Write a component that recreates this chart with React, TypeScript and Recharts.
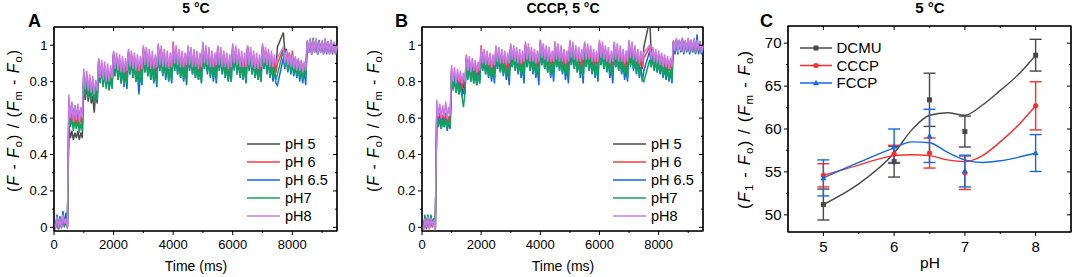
import React from "react";
import {
  LineChart, Line, XAxis, YAxis, ComposedChart, Scatter, ErrorBar, Legend, ReferenceLine,
} from "recharts";

const FONT = "'Liberation Sans', Arial, sans-serif";
const STEP_MS = 50;

const timeTicks = [0, 1000, 2000, 3000, 4000, 5000, 6000, 7000, 8000, 9000];
const yTicksAB = [0, 0.1, 0.2, 0.3, 0.4, 0.5, 0.6, 0.7, 0.8, 0.9, 1.0];
const phTicks = [5, 5.5, 6, 6.5, 7, 7.5, 8];
const yTicksC = [50, 52.5, 55, 57.5, 60, 62.5, 65, 67.5, 70];

const seriesNames = ["pH 5", "pH 6", "pH 6.5", "pH7", "pH8"];
const seriesColors = ["#4d4d4d", "#ff3b3b", "#1467e6", "#10a35c", "#c97ae6"];

// ---- panel A : 5 °C, one value every 50 ms ----
const aPH5 = [
  0.02, 0.00, 0.04, -0.01, 0.05, 0.00, 0.04, 0.01, 0.03, 0.00,
  0.56, 0.49, 0.53, 0.48, 0.52, 0.49, 0.53, 0.48, 0.52, 0.49,
  0.80, 0.70, 0.78, 0.69, 0.76, 0.68, 0.72, 0.63, 0.74, 0.68,
  0.90, 0.80, 0.88, 0.79, 0.87, 0.78, 0.86, 0.78, 0.85, 0.80,
  0.95, 0.85, 0.93, 0.84, 0.92, 0.83, 0.90, 0.82, 0.89, 0.83,
  0.96, 0.86, 0.94, 0.85, 0.93, 0.84, 0.91, 0.83, 0.90, 0.84,
  0.98, 0.87, 0.96, 0.86, 0.94, 0.85, 0.92, 0.84, 0.91, 0.85,
  0.99, 0.88, 0.97, 0.87, 0.95, 0.86, 0.93, 0.85, 0.92, 0.85,
  0.99, 0.88, 0.97, 0.87, 0.95, 0.86, 0.93, 0.85, 0.92, 0.86,
  0.99, 0.88, 0.97, 0.86, 0.95, 0.86, 0.93, 0.85, 0.91, 0.85,
  1.00, 0.88, 0.97, 0.87, 0.95, 0.86, 0.93, 0.85, 0.92, 0.86,
  0.99, 0.88, 0.96, 0.86, 0.95, 0.85, 0.93, 0.85, 0.91, 0.85,
  0.99, 0.88, 0.97, 0.87, 0.95, 0.86, 0.93, 0.85, 0.92, 0.86,
  0.99, 0.88, 0.96, 0.86, 0.94, 0.85, 0.92, 0.85, 0.91, 0.86,
  0.99, 0.88, 0.97, 0.87, 0.95, 0.86, 0.93, 0.85, 0.92, 0.86,
  0.99, null, null, null, 1.07, 0.96, 0.98, 0.90, 0.96, 0.88,
  0.95, 0.86, 0.93, 0.85, 0.92, 0.85, 0.91, 0.84, 0.90, 0.85,
  1.02, 0.97, 1.03, 0.96, 1.02, 0.97, 1.03, 0.96, 1.02, 0.97,
  1.02, 0.96, 1.03, 0.97, 1.02, 0.96, 1.02, 0.97, 1.01, 0.96, 0.99,
];
const aPH6 = [
  0.02, 0.00, 0.05, -0.01, 0.04, 0.00, 0.06, 0.01, 0.05, 0.00,
  0.66, 0.56, 0.63, 0.55, 0.62, 0.56, 0.63, 0.55, 0.61, 0.56,
  0.85, 0.73, 0.83, 0.72, 0.81, 0.71, 0.79, 0.70, 0.78, 0.72,
  0.92, 0.81, 0.90, 0.79, 0.89, 0.78, 0.87, 0.78, 0.86, 0.79,
  0.96, 0.86, 0.94, 0.84, 0.93, 0.83, 0.91, 0.82, 0.89, 0.83,
  0.97, 0.87, 0.95, 0.85, 0.94, 0.84, 0.92, 0.83, 0.90, 0.84,
  0.99, 0.88, 0.97, 0.86, 0.95, 0.85, 0.93, 0.84, 0.91, 0.84,
  1.00, 0.88, 0.98, 0.87, 0.96, 0.86, 0.94, 0.85, 0.92, 0.85,
  1.02, 0.89, 0.98, 0.87, 0.96, 0.86, 0.94, 0.85, 0.92, 0.85,
  0.99, 0.88, 0.97, 0.87, 0.95, 0.86, 0.94, 0.84, 0.92, 0.85,
  1.01, 0.89, 0.98, 0.87, 0.96, 0.86, 0.94, 0.85, 0.92, 0.86,
  0.99, 0.88, 0.97, 0.86, 0.95, 0.86, 0.93, 0.84, 0.91, 0.85,
  1.00, 0.89, 0.98, 0.87, 0.96, 0.86, 0.94, 0.85, 0.92, 0.85,
  0.99, 0.88, 0.97, 0.86, 0.95, 0.85, 0.93, 0.84, 0.91, 0.85,
  1.00, 0.89, 0.97, 0.87, 0.96, 0.86, 0.94, 0.85, 0.92, 0.85,
  0.90, null, null, null, 0.98, 0.89, 0.96, 0.88, 0.95, 0.87,
  0.97, 0.86, 0.93, 0.85, 0.92, 0.84, 0.91, 0.83, 0.90, 0.84,
  1.02, 0.96, 1.03, 0.95, 1.02, 0.96, 1.03, 0.95, 1.02, 0.96,
  1.02, 0.96, 1.03, 0.95, 1.02, 0.96, 1.02, 0.95, 1.01, 0.96, 0.99,
];
const aPH65 = [
  0.04, 0.00, 0.07, 0.01, 0.06, 0.00, 0.09, 0.02, 0.08, 0.01,
  0.70, 0.62, 0.68, 0.61, 0.67, 0.60, 0.66, 0.61, 0.65, 0.60,
  0.85, 0.73, 0.83, 0.72, 0.81, 0.71, 0.79, 0.70, 0.77, 0.71,
  0.91, 0.80, 0.89, 0.78, 0.87, 0.77, 0.85, 0.76, 0.83, 0.77,
  0.95, 0.83, 0.92, 0.81, 0.89, 0.79, 0.87, 0.77, 0.85, 0.76,
  0.96, 0.84, 0.92, 0.82, 0.90, 0.80, 0.86, 0.73, 0.85, 0.78,
  0.97, 0.85, 0.93, 0.83, 0.91, 0.81, 0.89, 0.79, 0.87, 0.77,
  0.98, 0.86, 0.94, 0.83, 0.92, 0.81, 0.90, 0.80, 0.88, 0.79,
  0.98, 0.86, 0.94, 0.84, 0.92, 0.82, 0.90, 0.80, 0.88, 0.78,
  0.98, 0.86, 0.94, 0.84, 0.91, 0.82, 0.89, 0.81, 0.87, 0.79,
  0.99, 0.87, 0.95, 0.84, 0.92, 0.82, 0.90, 0.80, 0.88, 0.79,
  0.98, 0.86, 0.94, 0.84, 0.92, 0.82, 0.89, 0.80, 0.87, 0.80,
  0.98, 0.87, 0.95, 0.84, 0.92, 0.82, 0.90, 0.81, 0.88, 0.79,
  0.98, 0.86, 0.94, 0.84, 0.91, 0.82, 0.89, 0.81, 0.87, 0.80,
  0.98, 0.87, 0.94, 0.84, 0.92, 0.82, 0.89, 0.80, 0.86, 0.79,
  0.78, null, null, null, 0.93, 0.87, 0.94, 0.85, 0.92, 0.84,
  0.91, 0.83, 0.89, 0.82, 0.88, 0.80, 0.87, 0.79, 0.86, 0.78,
  1.01, 0.96, 1.02, 0.95, 1.03, 0.96, 1.02, 0.95, 1.01, 0.96,
  1.02, 0.95, 1.03, 0.96, 1.01, 0.95, 1.02, 0.96, 1.01, 0.95, 0.98,
];
const aPH7 = [
  0.03, 0.00, 0.05, -0.01, 0.06, 0.01, 0.05, 0.00, 0.04, 0.00,
  0.64, 0.55, 0.60, 0.53, 0.58, 0.54, 0.59, 0.52, 0.57, 0.53,
  0.84, 0.72, 0.82, 0.71, 0.80, 0.70, 0.78, 0.69, 0.76, 0.70,
  0.90, 0.79, 0.88, 0.77, 0.86, 0.76, 0.84, 0.75, 0.83, 0.76,
  0.94, 0.83, 0.91, 0.81, 0.89, 0.79, 0.87, 0.78, 0.85, 0.79,
  0.95, 0.84, 0.92, 0.82, 0.90, 0.80, 0.88, 0.79, 0.86, 0.78,
  0.97, 0.85, 0.93, 0.83, 0.91, 0.81, 0.89, 0.80, 0.87, 0.79,
  0.97, 0.86, 0.94, 0.84, 0.92, 0.82, 0.90, 0.81, 0.88, 0.80,
  0.98, 0.86, 0.94, 0.84, 0.92, 0.82, 0.90, 0.81, 0.88, 0.80,
  0.97, 0.86, 0.94, 0.84, 0.91, 0.82, 0.90, 0.81, 0.87, 0.80,
  0.98, 0.87, 0.95, 0.85, 0.92, 0.83, 0.90, 0.82, 0.88, 0.81,
  0.97, 0.86, 0.94, 0.84, 0.92, 0.82, 0.90, 0.81, 0.88, 0.80,
  0.98, 0.86, 0.95, 0.84, 0.92, 0.83, 0.90, 0.81, 0.88, 0.81,
  0.97, 0.86, 0.94, 0.84, 0.91, 0.82, 0.89, 0.81, 0.87, 0.80,
  0.98, 0.87, 0.95, 0.85, 0.92, 0.83, 0.90, 0.82, 0.88, 0.81,
  0.84, null, null, null, 0.97, 0.88, 0.95, 0.86, 0.93, 0.85,
  0.92, 0.84, 0.90, 0.83, 0.89, 0.82, 0.88, 0.81, 0.87, 0.82,
  1.02, 0.97, 1.03, 0.96, 1.04, 0.97, 1.02, 0.96, 1.03, 0.97,
  1.02, 0.96, 1.03, 0.97, 1.02, 0.96, 1.03, 0.97, 1.01, 0.96, 0.99,
];
const aPH8 = [
  0.02, -0.01, 0.06, 0.00, 0.05, -0.01, 0.07, 0.02, 0.05, -0.01,
  0.73, 0.60, 0.69, 0.58, 0.67, 0.59, 0.68, 0.58, 0.66, 0.60,
  0.87, 0.76, 0.86, 0.75, 0.84, 0.74, 0.83, 0.73, 0.81, 0.75,
  0.93, 0.82, 0.92, 0.81, 0.91, 0.80, 0.90, 0.80, 0.89, 0.82,
  0.97, 0.87, 0.96, 0.86, 0.95, 0.85, 0.94, 0.85, 0.93, 0.86,
  0.98, 0.88, 0.97, 0.87, 0.96, 0.86, 0.95, 0.86, 0.94, 0.87,
  1.00, 0.89, 0.99, 0.88, 0.98, 0.87, 0.97, 0.87, 0.95, 0.88,
  1.01, 0.89, 1.00, 0.88, 0.98, 0.88, 0.97, 0.87, 0.96, 0.88,
  1.01, 0.90, 1.00, 0.89, 0.98, 0.88, 0.97, 0.88, 0.96, 0.89,
  1.00, 0.89, 0.99, 0.88, 0.98, 0.88, 0.97, 0.87, 0.96, 0.88,
  1.02, 0.90, 1.00, 0.89, 0.99, 0.88, 0.97, 0.88, 0.96, 0.89,
  1.00, 0.89, 0.99, 0.88, 0.97, 0.88, 0.96, 0.87, 0.95, 0.88,
  1.01, 0.90, 1.00, 0.89, 0.98, 0.88, 0.97, 0.88, 0.96, 0.88,
  1.00, 0.89, 0.99, 0.88, 0.97, 0.87, 0.96, 0.87, 0.95, 0.88,
  1.01, 0.90, 0.99, 0.89, 0.98, 0.88, 0.97, 0.88, 0.95, 0.89,
  0.93, null, null, null, 0.99, 0.90, 0.97, 0.89, 0.96, 0.88,
  0.95, 0.87, 0.94, 0.86, 0.93, 0.86, 0.92, 0.85, 0.91, 0.86,
  1.03, 0.96, 1.04, 0.95, 1.03, 0.96, 1.04, 0.95, 1.02, 0.96,
  1.03, 0.95, 1.04, 0.96, 1.02, 0.95, 1.03, 0.96, 1.02, 0.95, 1.00,
];

// ---- panel B : CCCP, 5 °C ----
const bPH5 = [
  0.03, 0.00, 0.04, -0.01, 0.05, 0.00, 0.04, 0.01, 0.03, 0.00,
  0.64, 0.56, 0.62, 0.55, 0.61, 0.56, 0.62, 0.55, 0.60, 0.56,
  0.86, 0.77, 0.84, 0.76, 0.82, 0.75, 0.81, 0.74, 0.79, 0.75,
  0.93, 0.83, 0.91, 0.82, 0.89, 0.81, 0.88, 0.80, 0.87, 0.81,
  0.98, 0.87, 0.95, 0.86, 0.93, 0.85, 0.92, 0.84, 0.90, 0.85,
  0.98, 0.88, 0.96, 0.87, 0.94, 0.86, 0.93, 0.85, 0.91, 0.86,
  0.99, 0.89, 0.97, 0.88, 0.96, 0.87, 0.94, 0.86, 0.93, 0.87,
  1.00, 0.89, 0.98, 0.88, 0.96, 0.87, 0.95, 0.86, 0.93, 0.87,
  1.01, 0.90, 0.98, 0.89, 0.97, 0.88, 0.95, 0.87, 0.94, 0.87,
  1.01, 0.89, 0.98, 0.88, 0.96, 0.87, 0.95, 0.86, 0.93, 0.87,
  1.01, 0.90, 0.99, 0.89, 0.97, 0.88, 0.95, 0.87, 0.94, 0.88,
  1.00, 0.89, 0.98, 0.88, 0.97, 0.87, 0.95, 0.87, 0.93, 0.87,
  1.01, 0.90, 0.99, 0.89, 0.97, 0.88, 0.95, 0.87, 0.94, 0.87,
  1.00, 0.89, 0.98, 0.88, 0.96, 0.87, 0.95, 0.86, 0.93, 0.87,
  1.01, 0.90, 0.98, 0.89, 0.97, 0.88, 0.95, 0.87, 0.93, 0.87,
  0.99, null, null, null, 1.14, 0.95, 0.98, 0.90, 0.96, 0.89,
  0.95, 0.88, 0.94, 0.87, 0.93, 0.86, 0.92, 0.86, 0.91, 0.86,
  1.02, 0.97, 1.03, 0.96, 1.02, 0.97, 1.03, 0.96, 1.02, 0.97,
  1.03, 0.96, 1.02, 0.97, 1.03, 0.96, 1.02, 0.97, 1.02, 0.96, 0.99,
];
const bPH6 = [
  0.02, -0.01, 0.05, 0.00, 0.04, -0.01, 0.06, 0.00, 0.05, -0.01,
  0.66, 0.57, 0.63, 0.56, 0.62, 0.57, 0.63, 0.56, 0.61, 0.57,
  0.87, 0.78, 0.85, 0.77, 0.84, 0.77, 0.83, 0.76, 0.82, 0.77,
  0.94, 0.84, 0.92, 0.83, 0.91, 0.83, 0.89, 0.82, 0.88, 0.83,
  1.00, 0.88, 0.96, 0.87, 0.95, 0.86, 0.93, 0.85, 0.92, 0.86,
  0.99, 0.89, 0.97, 0.88, 0.96, 0.87, 0.94, 0.86, 0.93, 0.87,
  1.00, 0.90, 0.98, 0.89, 0.97, 0.88, 0.95, 0.87, 0.94, 0.88,
  1.01, 0.90, 0.99, 0.89, 0.97, 0.88, 0.96, 0.87, 0.94, 0.88,
  1.03, 0.91, 0.99, 0.90, 0.98, 0.89, 0.96, 0.88, 0.95, 0.88,
  1.02, 0.90, 0.99, 0.89, 0.97, 0.88, 0.96, 0.87, 0.94, 0.88,
  1.02, 0.91, 1.00, 0.90, 0.98, 0.89, 0.96, 0.88, 0.95, 0.89,
  1.01, 0.90, 0.99, 0.89, 0.98, 0.88, 0.96, 0.88, 0.94, 0.88,
  1.02, 0.91, 1.00, 0.90, 0.98, 0.89, 0.96, 0.88, 0.95, 0.88,
  1.01, 0.90, 0.99, 0.89, 0.97, 0.88, 0.96, 0.87, 0.94, 0.88,
  1.02, 0.91, 0.99, 0.90, 0.98, 0.89, 0.96, 0.88, 0.94, 0.88,
  0.93, null, null, null, 0.99, 0.91, 0.98, 0.90, 0.96, 0.89,
  0.95, 0.88, 0.94, 0.87, 0.93, 0.86, 0.92, 0.86, 0.91, 0.86,
  1.02, 0.97, 1.03, 0.96, 1.02, 0.97, 1.03, 0.96, 1.02, 0.97,
  1.03, 0.96, 1.02, 0.97, 1.03, 0.96, 1.02, 0.97, 1.02, 0.96, 0.99,
];
const bPH65 = [
  0.04, 0.00, 0.06, 0.01, 0.07, 0.00, 0.06, 0.01, 0.05, 0.00,
  0.63, 0.55, 0.61, 0.54, 0.60, 0.55, 0.60, 0.53, 0.58, 0.54,
  0.85, 0.76, 0.83, 0.74, 0.81, 0.73, 0.79, 0.72, 0.75, 0.73,
  0.92, 0.82, 0.90, 0.80, 0.88, 0.79, 0.86, 0.78, 0.85, 0.79,
  0.96, 0.86, 0.93, 0.84, 0.91, 0.82, 0.89, 0.80, 0.87, 0.79,
  0.97, 0.87, 0.94, 0.85, 0.92, 0.83, 0.90, 0.81, 0.87, 0.78,
  0.98, 0.88, 0.95, 0.86, 0.93, 0.84, 0.91, 0.82, 0.88, 0.79,
  0.99, 0.88, 0.96, 0.86, 0.93, 0.84, 0.91, 0.82, 0.88, 0.78,
  0.99, 0.89, 0.96, 0.87, 0.94, 0.85, 0.92, 0.82, 0.89, 0.80,
  0.98, 0.88, 0.95, 0.86, 0.93, 0.84, 0.91, 0.81, 0.88, 0.79,
  0.99, 0.89, 0.96, 0.87, 0.94, 0.85, 0.92, 0.82, 0.89, 0.79,
  0.98, 0.88, 0.96, 0.86, 0.93, 0.84, 0.91, 0.82, 0.88, 0.80,
  0.99, 0.89, 0.96, 0.87, 0.94, 0.85, 0.92, 0.82, 0.88, 0.79,
  0.98, 0.88, 0.95, 0.86, 0.93, 0.84, 0.90, 0.81, 0.87, 0.80,
  0.99, 0.89, 0.96, 0.86, 0.93, 0.84, 0.91, 0.82, 0.88, 0.80,
  0.86, null, null, null, 0.97, 0.88, 0.94, 0.86, 0.92, 0.85,
  0.91, 0.84, 0.89, 0.82, 0.88, 0.81, 0.87, 0.80, 0.86, 0.79,
  1.01, 0.95, 1.02, 0.95, 1.03, 0.96, 1.02, 0.95, 1.01, 0.96,
  1.02, 0.95, 1.03, 0.96, 1.02, 0.95, 1.06, 0.95, 1.01, 0.95, 0.98,
];
const bPH7 = [
  0.03, -0.01, 0.07, 0.01, 0.06, 0.00, 0.07, 0.02, 0.05, -0.01,
  0.62, 0.55, 0.60, 0.54, 0.59, 0.55, 0.60, 0.54, 0.58, 0.55,
  0.84, 0.75, 0.82, 0.74, 0.80, 0.73, 0.78, 0.72, 0.66, 0.73,
  0.91, 0.81, 0.89, 0.80, 0.87, 0.79, 0.86, 0.78, 0.84, 0.79,
  0.96, 0.86, 0.93, 0.84, 0.91, 0.83, 0.89, 0.82, 0.87, 0.82,
  0.97, 0.87, 0.94, 0.85, 0.92, 0.84, 0.90, 0.83, 0.88, 0.82,
  0.98, 0.88, 0.95, 0.86, 0.93, 0.85, 0.91, 0.84, 0.89, 0.83,
  0.99, 0.88, 0.96, 0.86, 0.94, 0.85, 0.92, 0.84, 0.90, 0.83,
  0.99, 0.89, 0.96, 0.87, 0.94, 0.85, 0.92, 0.84, 0.90, 0.83,
  0.98, 0.88, 0.95, 0.86, 0.93, 0.85, 0.91, 0.84, 0.89, 0.82,
  0.99, 0.89, 0.96, 0.87, 0.94, 0.85, 0.92, 0.84, 0.90, 0.83,
  0.98, 0.88, 0.96, 0.86, 0.93, 0.85, 0.91, 0.83, 0.89, 0.82,
  0.99, 0.89, 0.96, 0.87, 0.94, 0.86, 0.92, 0.84, 0.90, 0.83,
  0.98, 0.88, 0.95, 0.86, 0.93, 0.85, 0.91, 0.84, 0.89, 0.82,
  0.99, 0.88, 0.96, 0.87, 0.94, 0.85, 0.92, 0.83, 0.87, 0.81,
  0.80, null, null, null, 0.92, 0.88, 0.94, 0.86, 0.93, 0.85,
  0.92, 0.85, 0.90, 0.83, 0.89, 0.82, 0.88, 0.81, 0.87, 0.80,
  1.02, 0.97, 1.03, 0.96, 1.02, 0.97, 1.04, 0.96, 1.02, 0.97,
  1.03, 0.97, 1.02, 0.96, 1.03, 0.97, 1.02, 0.96, 1.02, 0.97, 0.99,
];
const bPH8 = [
  0.01, -0.02, 0.05, 0.00, 0.06, -0.01, 0.05, 0.01, 0.04, -0.02,
  0.70, 0.61, 0.68, 0.60, 0.67, 0.61, 0.69, 0.60, 0.66, 0.61,
  0.89, 0.80, 0.88, 0.79, 0.87, 0.80, 0.86, 0.79, 0.85, 0.80,
  0.95, 0.86, 0.94, 0.85, 0.93, 0.86, 0.92, 0.85, 0.91, 0.86,
  0.99, 0.90, 0.98, 0.89, 0.97, 0.89, 0.96, 0.88, 0.95, 0.89,
  1.00, 0.91, 0.99, 0.90, 0.98, 0.90, 0.97, 0.89, 0.96, 0.90,
  1.01, 0.92, 1.00, 0.91, 0.99, 0.90, 0.98, 0.90, 0.97, 0.91,
  1.02, 0.92, 1.01, 0.91, 0.99, 0.91, 0.98, 0.90, 0.97, 0.91,
  1.03, 0.93, 1.01, 0.92, 1.00, 0.91, 0.99, 0.91, 0.97, 0.91,
  1.02, 0.92, 1.01, 0.91, 1.00, 0.91, 0.98, 0.90, 0.97, 0.91,
  1.03, 0.93, 1.02, 0.92, 1.00, 0.91, 0.99, 0.91, 0.98, 0.92,
  1.02, 0.92, 1.01, 0.92, 1.00, 0.91, 0.98, 0.91, 0.97, 0.91,
  1.03, 0.93, 1.02, 0.92, 1.00, 0.91, 0.99, 0.90, 0.97, 0.91,
  1.02, 0.92, 1.01, 0.91, 1.00, 0.91, 0.98, 0.90, 0.97, 0.91,
  1.03, 0.93, 1.02, 0.92, 1.00, 0.91, 0.98, 0.90, 0.97, 0.91,
  0.96, null, null, null, 1.00, 0.92, 0.99, 0.91, 0.98, 0.90,
  0.97, 0.89, 0.96, 0.88, 0.95, 0.88, 0.94, 0.87, 0.93, 0.88,
  1.03, 0.97, 1.04, 0.96, 1.03, 0.97, 1.04, 0.96, 1.03, 0.97,
  1.04, 0.96, 1.03, 0.97, 1.04, 0.96, 1.03, 0.97, 1.02, 0.96, 1.00,
];

// ---- panel C : 5 °C, plateau vs pH ----
const phPoints = [5, 6, 6.5, 7, 8];
const dcmuMean = [51.2, 56.2, 63.4, 59.7, 68.6];
const dcmuErr = [1.8, 1.8, 3.1, 1.8, 1.85];
const cccpMean = [54.6, 57.1, 57.2, 54.9, 62.7];
const cccpErr = [1.35, 1.0, 1.75, 1.95, 2.8];
const fccpMean = [54.3, 58.0, 59.2, 55.1, 57.2];
const fccpErr = [2.1, 2.0, 3.1, 1.85, 2.15];

// smoothed curves as drawn in the figure
const phCurve = [5, 5.5, 6, 6.25, 6.5, 6.75, 7, 7.25, 7.5, 7.75, 8];
const dcmuCurve = [51.2, 53.6, 57.2, 59.9, 61.6, 61.9, 61.6, 62.8, 64.5, 66.3, 68.6];
const cccpCurve = [54.6, 55.8, 56.9, 57.0, 56.9, 56.4, 56.2, 56.9, 58.5, 60.4, 62.7];
const fccpCurve = [54.3, 56.1, 57.8, 58.5, 58.4, 57.3, 56.4, 56.1, 56.3, 56.7, 57.2];

const buildRows = (s: (number | null)[][]) =>
  s[4].map((_, i) => ({ t: i * STEP_MS, p5: s[0][i], p6: s[1][i], p65: s[2][i], p7: s[3][i], p8: s[4][i] }));

const rowsA = buildRows([aPH5, aPH6, aPH65, aPH7, aPH8]);
const rowsB = buildRows([bPH5, bPH6, bPH65, bPH7, bPH8]);
const seriesKeys = ["p5", "p6", "p65", "p7", "p8"];

const pts = (mean: number[], err: number[]) => phPoints.map((ph, i) => ({ ph, y: mean[i], err: err[i] }));
const curve = (vals: number[]) => phCurve.map((ph, i) => ({ ph, y: vals[i] }));

const cSeries = [
  { name: "DCMU", color: "#484848", shape: "square", points: pts(dcmuMean, dcmuErr), line: curve(dcmuCurve) },
  { name: "CCCP", color: "#ff2b2b", shape: "circle", points: pts(cccpMean, cccpErr), line: curve(cccpCurve) },
  { name: "FCCP", color: "#0f6ae8", shape: "triangle", points: pts(fccpMean, fccpErr), line: curve(fccpCurve) },
];

// ticks: outward on left/bottom with labels, plus the inward mirror tick on the opposite frame side
const axisTick = (side: string, edge: number, farEdge: number, isMajor: (v: number) => boolean, fontSize: number) =>
  (props: any) => {
    const v = props.payload.value;
    const major = isMajor(v);
    const len = major ? 4 : 2;
    const label = String(parseFloat(Number(v).toFixed(1)));
    if (side === "left") {
      const y = props.y;
      return (
        <g>
          <line x1={edge - len} x2={edge} y1={y} y2={y} stroke="#000" strokeWidth={1} />
          <line x1={farEdge - len} x2={farEdge} y1={y} y2={y} stroke="#000" strokeWidth={1} />
          {major && (
            <text x={edge - len - 2.5} y={y} dy="0.35em" textAnchor="end" fontSize={fontSize} fontFamily={FONT} fill="#000">
              {label}
            </text>
          )}
        </g>
      );
    }
    const x = props.x;
    return (
      <g>
        <line x1={x} x2={x} y1={edge} y2={edge + len} stroke="#000" strokeWidth={1} />
        <line x1={x} x2={x} y1={farEdge} y2={farEdge + len} stroke="#000" strokeWidth={1} />
        {major && (
          <text x={x} y={edge + len + 5} dy="0.71em" textAnchor="middle" fontSize={fontSize} fontFamily={FONT} fill="#000">
            {label}
          </text>
        )}
      </g>
    );
  };

const majorTime = (v: number) => v % 2000 === 0;
const majorAB = (v: number) => Math.round(v * 10) % 2 === 0;
const majorPh = (v: number) => Number.isInteger(v);
const majorC = (v: number) => v % 5 === 0;

const axisLine = { stroke: "#000", strokeWidth: 1.2 };

const TraceLegend = () => (
  <svg width={110} height={92}>
    {seriesNames.map((n, i) => (
      <g key={n}>
        <line x1={3} x2={36} y1={9 + i * 18} y2={9 + i * 18} stroke={seriesColors[i]} strokeWidth={1.5} />
        <text x={41} y={9 + i * 18} dy="0.35em" fontSize={14.5} fontFamily={FONT} fill="#000">{n}</text>
      </g>
    ))}
  </svg>
);

const marker = (shape: string, cx: number, cy: number, color: string) => {
  if (shape === "square") return <rect x={cx - 2.5} y={cy - 2.5} width={5} height={5} fill={color} />;
  if (shape === "circle") return <circle cx={cx} cy={cy} r={2.6} fill={color} />;
  return <path d={`M${cx},${cy - 3.2}L${cx + 3},${cy + 2.3}L${cx - 3},${cy + 2.3}Z`} fill={color} />;
};

const PhLegend = () => (
  <svg width={110} height={56}>
    {cSeries.map((s, i) => (
      <g key={s.name}>
        <line x1={2} x2={34} y1={9 + i * 17.5} y2={9 + i * 17.5} stroke={s.color} strokeWidth={1.5} />
        {marker(s.shape, 18, 9 + i * 17.5, s.color)}
        <text x={38.5} y={9 + i * 17.5} dy="0.35em" fontSize={15} fontFamily={FONT} fill="#000">{s.name}</text>
      </g>
    ))}
  </svg>
);

const TracePanel = ({ rows, left, right }: { rows: any[]; left: number; right: number }) => {
  const width = 360;
  const plotRight = width - right;
  return (
    <LineChart width={width} height={277} data={rows} margin={{ top: 27, right, bottom: 16, left: 0 }}>
      <XAxis dataKey="t" type="number" domain={[0, 9500]} ticks={timeTicks} interval={0} height={30}
        axisLine={axisLine} tickLine={false} tick={axisTick("bottom", 231, 27, majorTime, 13)} />
      <YAxis type="number" domain={[-0.02, 1.1]} ticks={yTicksAB} interval={0} width={left} allowDataOverflow
        axisLine={axisLine} tickLine={false} tick={axisTick("left", left, plotRight, majorAB, 13)} />
      {/* frame: top and right edges */}
      <ReferenceLine y={1.1} stroke="#000" strokeWidth={1.2} ifOverflow="visible" />
      <ReferenceLine x={9500} stroke="#000" strokeWidth={1.2} ifOverflow="visible" />
      {seriesKeys.map((k, i) => (
        <Line key={k} dataKey={k} name={seriesNames[i]} stroke={seriesColors[i]} strokeWidth={1.5} dot={false}
          connectNulls isAnimationActive={false} />
      ))}
      <Legend layout="vertical" verticalAlign="middle" align="center"
        wrapperStyle={{ left: plotRight - 93, top: 135, width: 110, height: 92 }} content={() => <TraceLegend />} />
    </LineChart>
  );
};

const PhPanel = () => (
  <ComposedChart width={372} height={277} margin={{ top: 26, right: 1, bottom: 15, left: 0 }}>
    <XAxis dataKey="ph" type="number" domain={[4.5, 8.5]} ticks={phTicks} interval={0} height={30}
      axisLine={axisLine} tickLine={false} tick={axisTick("bottom", 232, 26, majorPh, 15)} />
    <YAxis dataKey="y" type="number" domain={[48, 72]} ticks={yTicksC} interval={0} width={88}
      axisLine={axisLine} tickLine={false} tick={axisTick("left", 88, 371, majorC, 15)} />
    <ReferenceLine y={72} stroke="#000" strokeWidth={1.2} ifOverflow="visible" />
    <ReferenceLine x={8.5} stroke="#000" strokeWidth={1.2} ifOverflow="visible" />
    {cSeries.map((s) => (
      <Line key={s.name + "-fit"} data={s.line} dataKey="y" type="monotone" stroke={s.color} strokeWidth={1.4}
        dot={false} isAnimationActive={false} legendType="none" />
    ))}
    {cSeries.map((s) => (
      <Scatter key={s.name} name={s.name} data={s.points} dataKey="y" fill={s.color} isAnimationActive={false}
        shape={(p: any) => marker(s.shape, p.cx, p.cy, s.color)}>
        <ErrorBar dataKey="err" direction="y" width={6} stroke={s.color} strokeWidth={1.4} />
      </Scatter>
    ))}
    <Legend layout="vertical" verticalAlign="middle" align="center"
      wrapperStyle={{ left: 98, top: 39, width: 110, height: 56 }} content={() => <PhLegend />} />
  </ComposedChart>
);

const YTitle = ({ x, y, len, size, first }: { x: number; y: number; len: number; size: number; first?: string }) => (
  <text transform={`translate(${x},${y}) rotate(-90)`} textAnchor="middle" fontSize={size} fontFamily={FONT}
    textLength={len} lengthAdjust="spacing" fill="#000">
    (<tspan fontStyle="italic">F</tspan>
    {first && <tspan fontSize={size * 0.7} dy={3}>{first}</tspan>}
    <tspan dy={first ? -3 : 0}> - </tspan>
    <tspan fontStyle="italic">F</tspan>
    <tspan fontSize={size * 0.7} dy={3}>o</tspan>
    <tspan dy={-3}>) / (</tspan>
    <tspan fontStyle="italic">F</tspan>
    <tspan fontSize={size * 0.7} dy={3}>m</tspan>
    <tspan dy={-3}> - </tspan>
    <tspan fontStyle="italic">F</tspan>
    <tspan fontSize={size * 0.7} dy={3}>o</tspan>
    <tspan dy={-3}>)</tspan>
  </text>
);

// plot frames (left, top, right, bottom) of the three panels, page pixels
const frames = [
  [54, 27, 337, 231],
  [422, 27, 703, 231],
  [788, 26, 1071, 232],
];

export default function App() {
  return (
    <div style={{ position: "relative", width: 1072, height: 277, background: "#fff", fontFamily: FONT }}>
      <style>{"body{margin:0}"}</style>
      <svg width={1072} height={277} style={{ position: "absolute", left: 0, top: 0, pointerEvents: "none" }}>
        {frames.map(([l, t, r, b], i) => (
          <rect key={i} x={l} y={t} width={r - l} height={b - t} fill="none" stroke="#000" strokeWidth={1.2} />
        ))}
        <text x={196} y={13} textAnchor="middle" fontSize={14} fontWeight="bold" fontFamily={FONT}>5 °C</text>
        <text x={563} y={13} textAnchor="middle" fontSize={14} fontWeight="bold" fontFamily={FONT}>CCCP, 5 °C</text>
        <text x={930} y={12.5} textAnchor="middle" fontSize={15} fontWeight="bold" fontFamily={FONT}>5 °C</text>
        <text x={28} y={27} fontSize={18} fontWeight="bold" fontFamily={FONT}>A</text>
        <text x={395} y={27} fontSize={18} fontWeight="bold" fontFamily={FONT}>B</text>
        <text x={760} y={27} fontSize={18} fontWeight="bold" fontFamily={FONT}>C</text>
        <text x={196} y={271} textAnchor="middle" fontSize={14} fontFamily={FONT}>Time (ms)</text>
        <text x={563} y={271} textAnchor="middle" fontSize={14} fontFamily={FONT}>Time (ms)</text>
        <text x={930} y={268} textAnchor="middle" fontSize={15.5} fontFamily={FONT}>pH</text>
        <YTitle x={19} y={121} len={142} size={16} />
        <YTitle x={379} y={121} len={142} size={16} />
        <YTitle x={750} y={130} len={158} size={16.5} first="1" />
      </svg>
      <div style={{ position: "absolute", left: 0, top: 0 }}>
        <TracePanel rows={rowsA} left={54} right={23} />
      </div>
      <div style={{ position: "absolute", left: 368, top: 0 }}>
        <TracePanel rows={rowsB} left={54} right={25} />
      </div>
      <div style={{ position: "absolute", left: 700, top: 0 }}>
        <PhPanel />
      </div>
    </div>
  );
}
